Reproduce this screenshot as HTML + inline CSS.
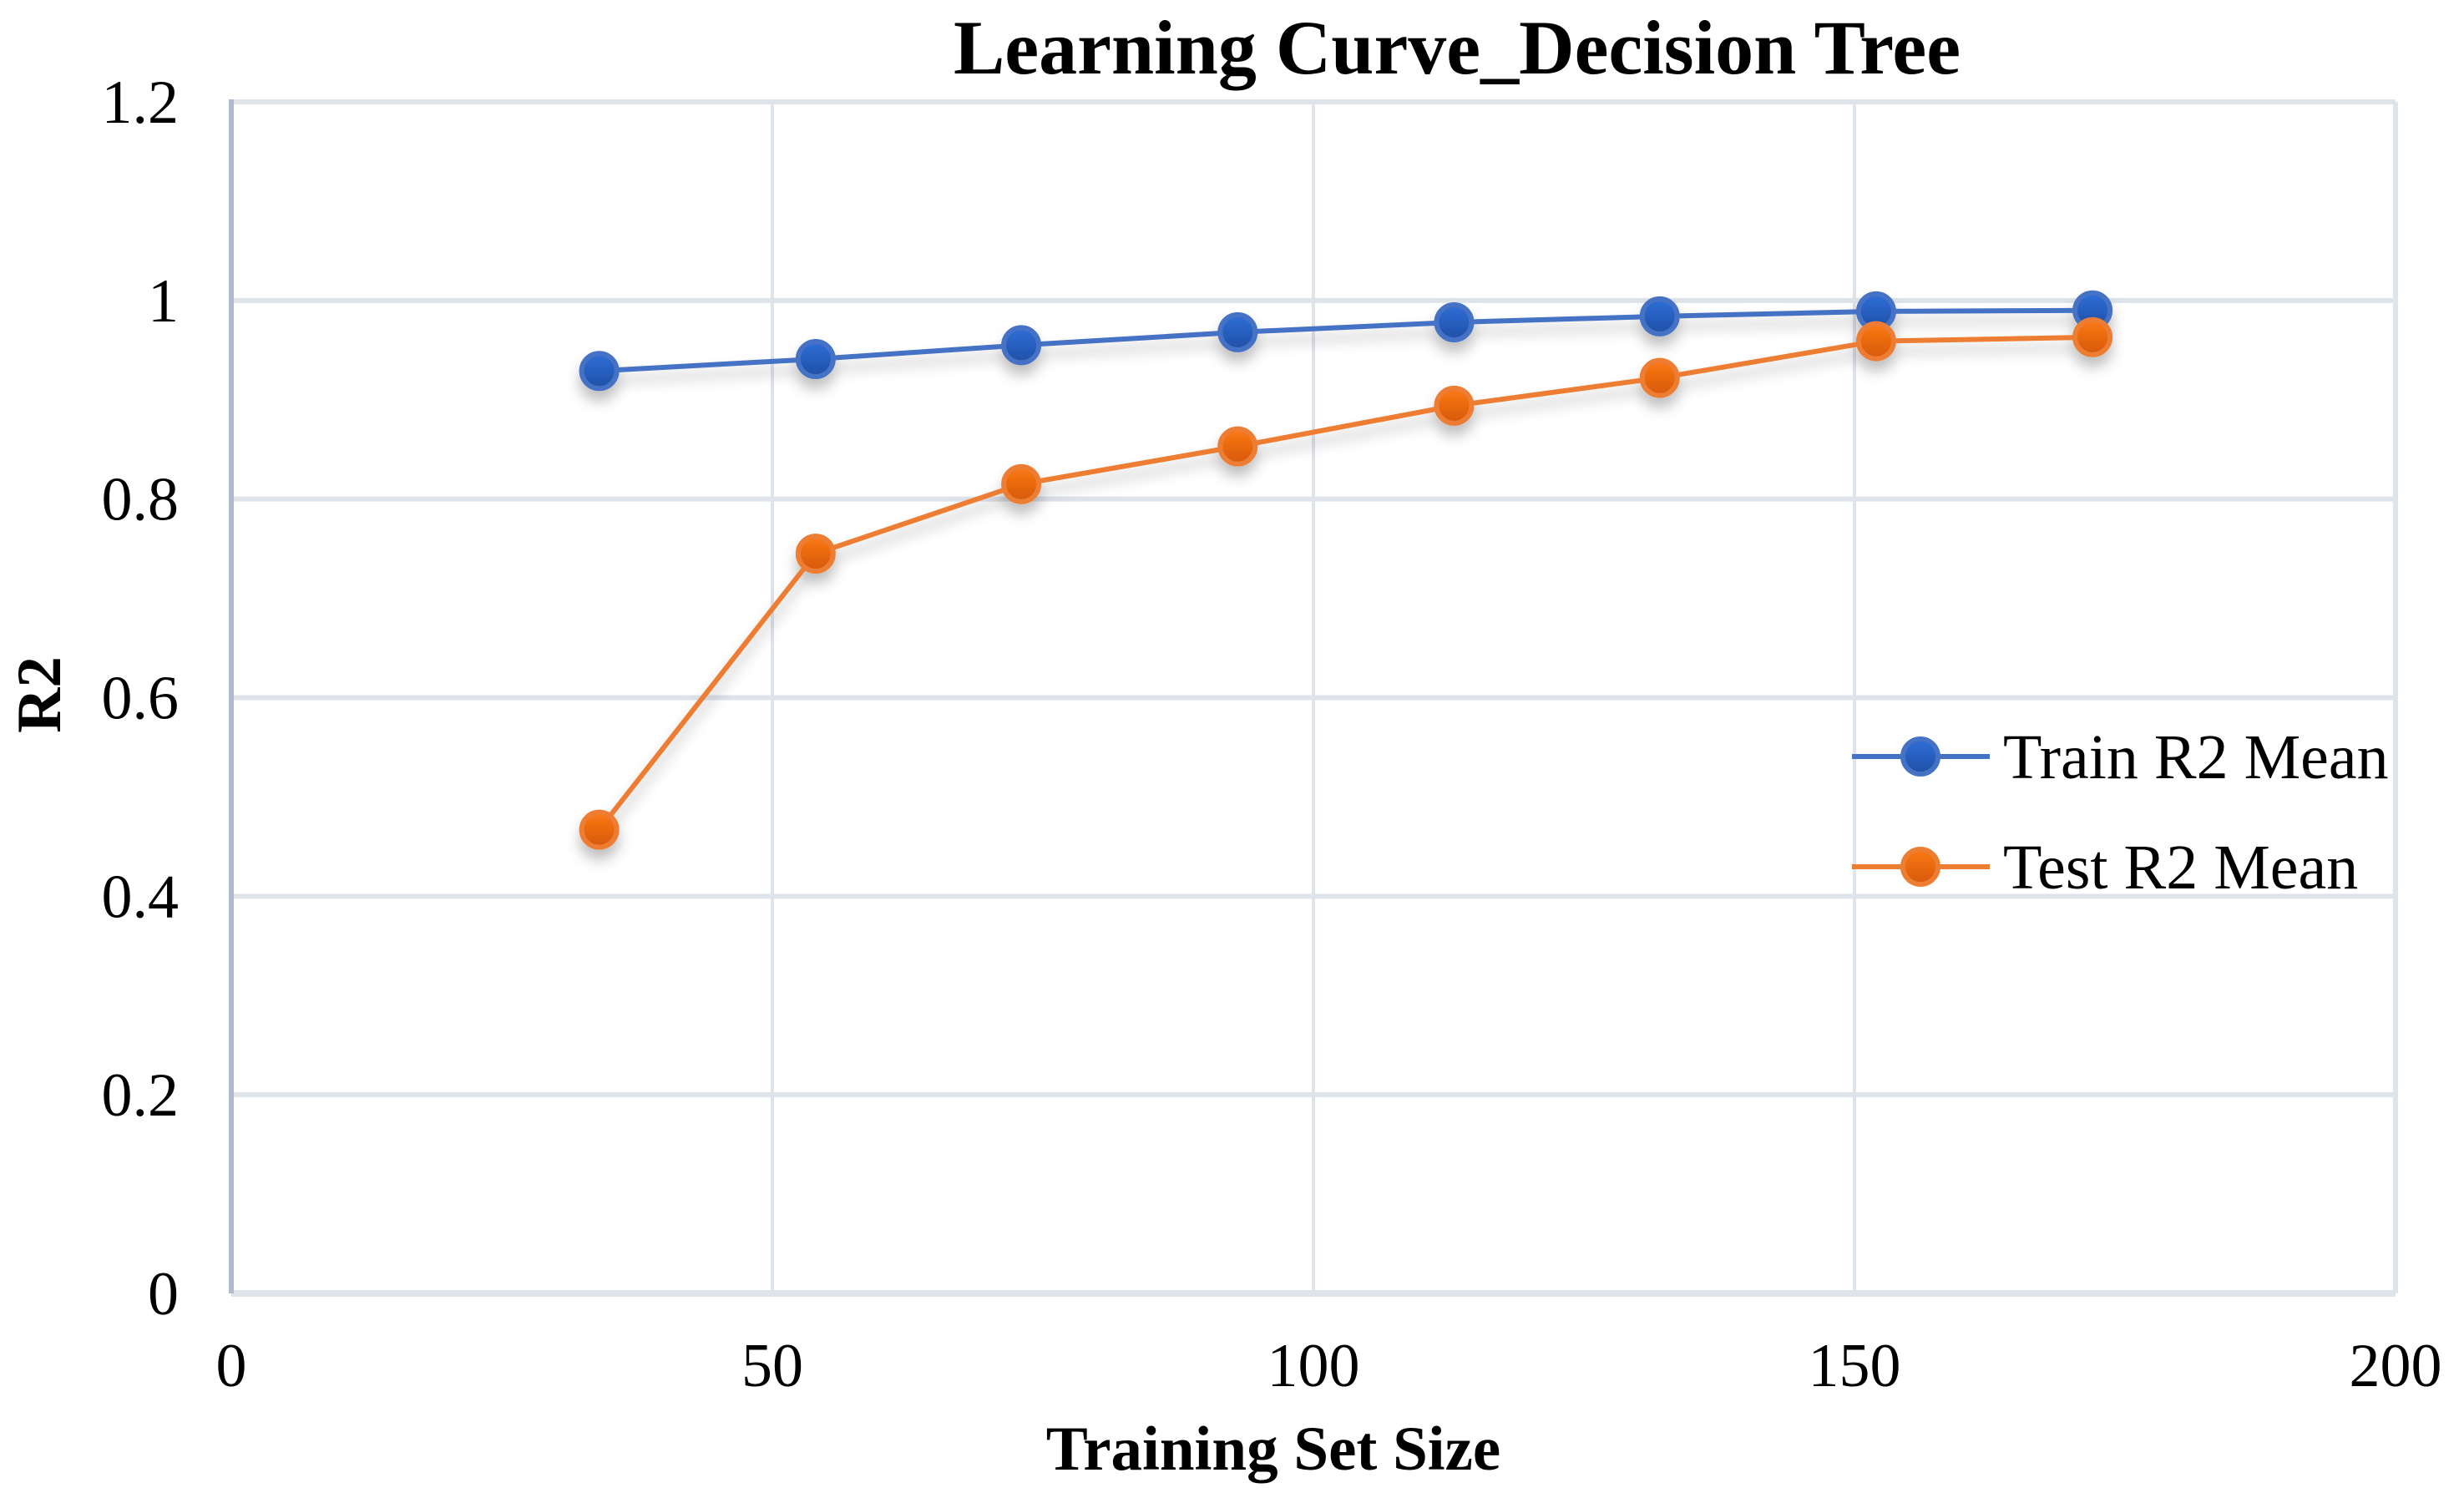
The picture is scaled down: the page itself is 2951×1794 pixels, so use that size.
<!DOCTYPE html>
<html><head><meta charset="utf-8"><style>
html,body{margin:0;padding:0;background:#fff;}
svg{display:block;font-family:"Liberation Serif","Times New Roman",serif;}
</style></head><body>
<svg id="chart" width="2951" height="1794" viewBox="0 0 2951 1794" xmlns="http://www.w3.org/2000/svg">
<defs>
<filter id="sh" x="-50%" y="-50%" width="200%" height="250%"><feDropShadow dx="0" dy="12" stdDeviation="8" flood-color="#000" flood-opacity="0.25"/></filter>
<linearGradient id="gb" x1="0" y1="0" x2="0" y2="1"><stop offset="0" stop-color="#2f6fd8"/><stop offset="1" stop-color="#1f4fa6"/></linearGradient>
<linearGradient id="go" x1="0" y1="0" x2="0" y2="1"><stop offset="0" stop-color="#fb7a14"/><stop offset="1" stop-color="#d6580a"/></linearGradient>
</defs>
<g id="grid"></g>
<g id="axes"></g>
<g id="series"></g>
<text x="1745" y="88" text-anchor="middle" font-size="92" font-weight="bold">Learning Curve_Decision Tree</text>
<text x="1525" y="1760" text-anchor="middle" font-size="75" font-weight="bold">Training Set Size</text>
<text x="0" y="0" transform="translate(72,832) rotate(-90)" text-anchor="middle" font-size="75" font-weight="bold">R2</text>
<g>
<g>
<line x1="2218" y1="906" x2="2383" y2="906" stroke="#4472c4" stroke-width="6"/>
<circle cx="2300" cy="906" r="21" fill="url(#gb)" stroke="#4472c4" stroke-width="6"/>
<text x="2399" y="932" font-size="76">Train R2 Mean</text>
</g>
<g>
<line x1="2218" y1="1038" x2="2383" y2="1038" stroke="#ed7d31" stroke-width="6"/>
<circle cx="2300" cy="1038" r="21" fill="url(#go)" stroke="#ed7d31" stroke-width="6"/>
<text x="2399" y="1064" font-size="76">Test R2 Mean</text>
</g>
</g>
</svg>
<script>
const xValues = [34, 54, 73, 93, 113, 132, 152, 172];
const trainR2 = [0.929, 0.941, 0.955, 0.968, 0.978, 0.984, 0.989, 0.990];
const testR2 = [0.467, 0.745, 0.815, 0.853, 0.894, 0.922, 0.959, 0.963];
const xTicks = [0, 50, 100, 150, 200];
const yTicks = [0, 0.2, 0.4, 0.6, 0.8, 1, 1.2];

const NS = 'http://www.w3.org/2000/svg';
const X0 = 277, X1 = 2869, Y0 = 1549, Y1 = 122;
function sx(v){ return X0 + (v - 0) / 200 * (X1 - X0); }
function sy(v){ return Y0 - (v - 0) / 1.2 * (Y0 - Y1); }
function mk(tag, attrs, parent){
  const el = document.createElementNS(NS, tag);
  for (const k in attrs) el.setAttribute(k, attrs[k]);
  parent.appendChild(el);
  return el;
}
const grid = document.getElementById('grid');
const axes = document.getElementById('axes');
const series = document.getElementById('series');

yTicks.forEach(t => {
  const y = sy(t);
  const gl = mk('line', {x1: X0, x2: X1, y1: y, y2: y, stroke: '#dfe3ea', 'stroke-width': t === 0 ? 8 : 6}, grid);
  
  
  const tx = mk('text', {x: 214, y: y + 25, 'text-anchor': 'end', 'font-size': 74}, axes);
  tx.textContent = String(t);
  
  
});
xTicks.forEach(t => {
  const x = sx(t);
  if (t > 0) {
    const gl = mk('line', {x1: x, x2: x, y1: Y1, y2: Y0, stroke: '#dfe3ea', 'stroke-width': t === 200 ? 6 : 4}, grid);
    
    
  }
  const tx = mk('text', {x: x, y: 1660, 'text-anchor': 'middle', 'font-size': 74}, axes);
  tx.textContent = String(t);
  
  
});
const ax = mk('line', {x1: X0, x2: X0, y1: Y1 - 3, y2: Y0, stroke: '#b0bccb', 'stroke-width': 6}, axes);



function drawSeries(vals, color, fill, name){
  const g = mk('g', {filter: 'url(#sh)'}, series);
  
  
  const pts = vals.map((v, i) => sx(xValues[i]) + ',' + sy(v)).join(' ');
  const pl = mk('polyline', {points: pts, fill: 'none', stroke: color, 'stroke-width': 6, 'stroke-linejoin': 'round'}, g);
  
  
  vals.forEach((v, i) => {
    const c = mk('circle', {cx: sx(xValues[i]), cy: sy(v), r: 21, fill: fill, stroke: color, 'stroke-width': 6}, g);
    
    
  });
}
drawSeries(trainR2, '#4472c4', 'url(#gb)', 'train-r2-mean');
drawSeries(testR2, '#ed7d31', 'url(#go)', 'test-r2-mean');
</script>
</body></html>
